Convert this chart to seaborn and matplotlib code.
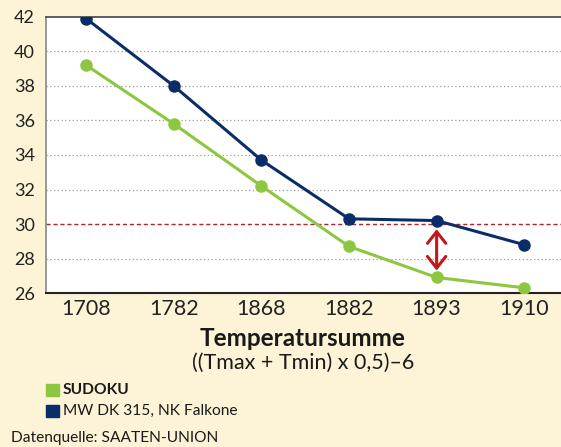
import matplotlib
matplotlib.use("Agg")
import matplotlib.pyplot as plt
import seaborn as sns
import pandas as pd
from matplotlib.patches import Rectangle

categories = ["1708", "1782", "1868", "1882", "1893", "1910"]
sudoku = [39.2, 35.8, 32.2, 28.7, 26.9, 26.3]
falkone = [41.9, 38.0, 33.7, 30.3, 30.2, 28.8]
yticks = [26, 28, 30, 32, 34, 36, 38, 40, 42]
threshold = 30
arrow_span = [29.7, 27.3]
arrow_cat = "1893"

BG = "#FDF3D6"
GREEN = "#8DC63F"
NAVY = "#0B2D67"
RED = "#C4161C"

sns.set_theme(style="white")
plt.rcParams["font.family"] = ["Lato", "DejaVu Sans"]

df = pd.DataFrame({
    "x": categories * 2,
    "y": sudoku + falkone,
    "s": ["SUDOKU"] * len(categories) + ["MW DK 315, NK Falkone"] * len(categories),
})

fig = plt.figure(figsize=(5.61, 4.47), dpi=100, facecolor=BG)
ax = fig.add_axes([0.082, 0.3445, 0.918, 0.6175])
ax.set_facecolor("white")

for yv in yticks:
    if yv not in (yticks[0], yticks[-1], threshold):
        ax.axhline(yv, color="#9a9a9a", lw=0.9, ls=(0, (1, 2)), zorder=1)
ax.axhline(threshold, color="#B0242B", lw=1.0, ls=(0, (3, 2)), zorder=1)

sns.lineplot(data=df, x="x", y="y", hue="s", palette=[GREEN, NAVY], marker="o",
             markersize=9, markeredgewidth=0, lw=2.2, sort=False, legend=False, ax=ax, zorder=3)

xi = categories.index(arrow_cat)
ax.annotate("", xy=(xi, arrow_span[1]), xytext=(xi, arrow_span[0]),
            arrowprops=dict(arrowstyle="<->,head_length=0.7,head_width=0.55", color=RED, lw=2.2,
                            shrinkA=0, shrinkB=0), zorder=4)

ax.set_ylim(26, 42)
ax.set_xlim(-0.46, 5.42)
ax.set_yticks(yticks)
ax.set_yticklabels([str(v) for v in yticks], fontsize=13, color="#222222")
ax.set_xticks(range(len(categories)))
ax.set_xticklabels(categories, fontsize=15.5, color="#222222")
ax.tick_params(axis="both", length=0, pad=4)
ax.tick_params(axis="y", pad=8)
ax.set_xlabel("")
ax.set_ylabel("")
for side, sp in ax.spines.items():
    sp.set_visible(True)
ax.spines["left"].set_color("#888888")
ax.spines["left"].set_linewidth(1.2)
ax.spines["top"].set_color("#444444")
ax.spines["top"].set_linewidth(1.2)
ax.spines["bottom"].set_color("#222222")
ax.spines["bottom"].set_linewidth(1.5)
ax.spines["right"].set_visible(False)

fig.text(0.54, 1 - 338 / 447, "Temperatursumme", ha="center", va="center", fontsize=17.5,
         fontweight="bold", color="#1a1a1a")
fig.text(0.54, 1 - 363 / 447, "((Tmax + Tmin) x 0,5)–6", ha="center", va="center", fontsize=15.5,
         color="#1a1a1a")

fig.patches.append(Rectangle((46 / 561, 1 - 396 / 447), 13 / 561, 12 / 447,
                             transform=fig.transFigure, color=GREEN, figure=fig))
fig.text(63 / 561, 1 - 390 / 447, "SUDOKU", ha="left", va="center", fontsize=11.2,
         fontweight="bold", color="#1a1a1a")
fig.patches.append(Rectangle((46 / 561, 1 - 417 / 447), 13 / 561, 12 / 447,
                             transform=fig.transFigure, color=NAVY, figure=fig))
fig.text(63 / 561, 1 - 411 / 447, "MW DK 315, NK Falkone", ha="left", va="center",
         fontsize=11.2, color="#1a1a1a")
fig.text(11 / 561, 1 - 438 / 447, "Datenquelle: SAATEN-UNION", ha="left", va="center",
         fontsize=11.2, color="#1a1a1a")

fig.savefig("out.png", dpi=100, facecolor=BG)
